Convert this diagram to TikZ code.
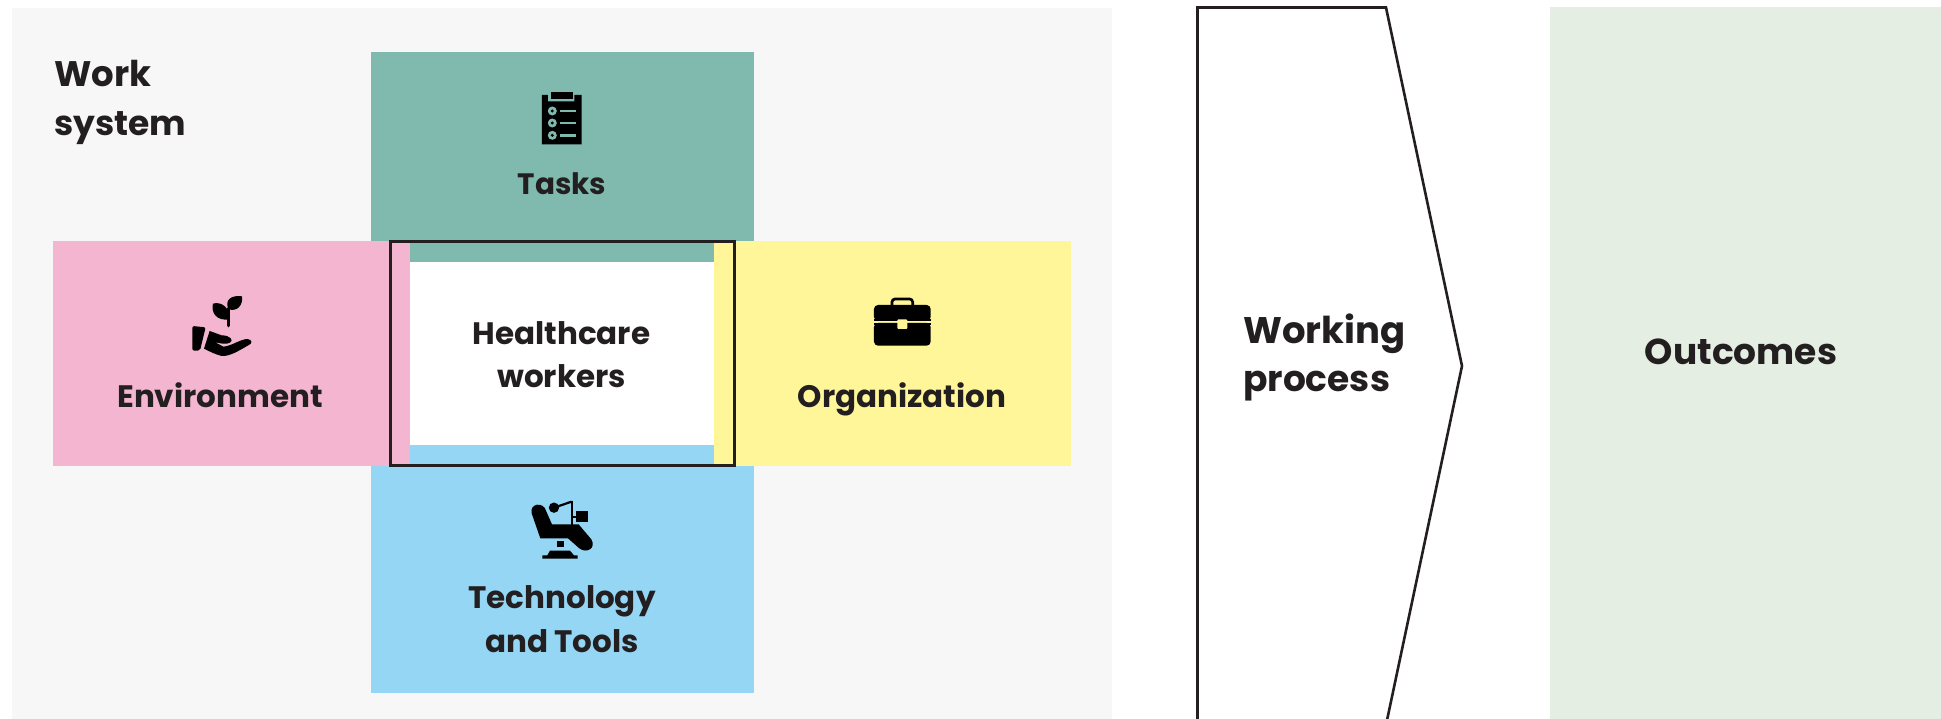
\documentclass[tikz,border=0pt]{standalone}
\usepackage{fontspec}
\setmainfont{Poppins}
\definecolor{ink}{HTML}{231F20}
\definecolor{panel}{HTML}{F7F7F7}
\definecolor{teal}{HTML}{80BAAF}
\definecolor{pinkb}{HTML}{F3B5D0}
\definecolor{yell}{HTML}{FFF599}
\definecolor{blueb}{HTML}{94D6F4}
\definecolor{greenb}{HTML}{E5EEE3}
\tikzset{
  lab/.style={font=\fontsize{31}{43.3}\selectfont\bfseries, text=ink, align=center, inner sep=0pt},
  labbig/.style={font=\fontsize{36}{48}\selectfont\bfseries, text=ink, align=left, inner sep=0pt},
  icon/.style={x=0.3333pt,y=-0.3333pt},
}
\begin{document}
\begin{tikzpicture}[x=1pt,y=-1pt]
\useasboundingbox (0,0) rectangle (1941,719);
\clip (0,0) rectangle (1941,719);
\fill[panel] (12,8) rectangle (1112,719);
\fill[teal] (371,52) rectangle (754,262);
\fill[blueb] (371,445) rectangle (754,693);
\fill[pinkb] (53,241) rectangle (410,466);
\fill[yell] (714,241) rectangle (1071,466);
\fill[white] (410,262) rectangle (714,445);
\draw[ink,line width=3pt] (390.5,241.5) rectangle (734.5,465.5);
\fill[greenb] (1550,7) rectangle (1941,719);
\draw[ink,line width=2.6pt,fill=white,line join=miter] (1197.5,7.5) -- (1386,7.5) -- (1462,366) -- (1386,725) -- (1197.5,725) -- cycle;
% labels
\node[labbig,anchor=base west,font=\fontsize{35.5}{48}\selectfont\bfseries] (ws) at (54,87) {Work};
\node[labbig,anchor=base west,font=\fontsize{34.5}{48}\selectfont\bfseries] (ws2) at (54,136) {system};
\node[lab,anchor=base,font=\fontsize{29.5}{40}\selectfont\bfseries] (tasks) at (562,195) {Tasks};
\node[lab,anchor=base] (env) at (220,407.5) {Environment};
\node[lab,anchor=base] (org) at (902,407.5) {Organization};
\node[lab] (hw) at (561.5,354.5) {Healthcare\\workers};
\node[lab] (tt) at (562,619) {Technology\\and Tools};
\node[labbig,anchor=base west,font=\fontsize{37}{48}\selectfont\bfseries] (wp) at (1243,343) {Working};
\node[labbig,anchor=base west] (wp2) at (1243,391.5) {process};
\node[labbig,anchor=base] (out) at (1741,364) {Outcomes};
% clipboard
\begin{scope}[shift={(360,40)},icon]
\fill[black] (546,165) -- (564,165) -- (564,184) -- (643,184) -- (643,165) -- (665,165) -- (665,313) -- (546,313) -- cycle;
\fill[black] (573,156) rectangle (640,177);
\foreach \yy in {213,249,286}{
  \fill[teal] (577,\yy) circle (13.5);
  \fill[black] (577,\yy) circle (5);
  \fill[teal] (600,\yy-4) rectangle (647,\yy+4);
}
\end{scope}
% plant and hand
\begin{scope}[shift={(40,230)},icon]
\fill[black] (566,238) .. controls (552,210) and (575,194) .. (606,199) .. controls (610,225) and (592,246) .. (566,238) -- cycle;
\fill[black] (519,221) .. controls (542,214) and (570,230) .. (568,268) .. controls (532,274) and (512,250) .. (519,221) -- cycle;
\draw[black,line width=3.5pt,line cap=round] (565,235) -- (565,287);
\fill[black,rounded corners=2pt] (457,288) -- (497,292) -- (480,362) -- (457,362) -- cycle;
\fill[black] (509,303) -- (545,316) .. controls (572,316) and (582,332) .. (570,338) .. controls (560,344) and (540,341) .. (524,336) -- (550,350) .. controls (575,348) and (600,328) .. (622,327) .. controls (638,329) and (638,341) .. (625,346) .. controls (600,360) and (570,380) .. (545,378) .. controls (525,373) and (510,365) .. (492,356) -- cycle;
\end{scope}
% briefcase
\begin{scope}[shift={(700,230)},icon]
\draw[black,line width=2.7pt,rounded corners=3pt] (576,228) -- (576,207) -- (638,207) -- (638,228);
\fill[black,rounded corners=4pt] (522,273) -- (522,225) -- (692,225) -- (692,273) -- cycle;
\fill[black,rounded corners=4pt] (522,279) -- (522,347) -- (692,347) -- (692,279) -- cycle;
\fill[black] (522,273) rectangle (692,268);
\fill[black] (522,279) rectangle (692,285);
\fill[yell,rounded corners=1pt] (592,268) rectangle (622,297);
\end{scope}
% dental chair
\begin{scope}[shift={(360,440)},icon]
\fill[black] (515,220) .. controls (508,190) and (550,184) .. (558,212) -- (576,253) -- (656,253) -- (694,298) .. controls (710,324) and (680,342) .. (658,325) -- (624,295) -- (541,295) -- cycle;
\fill[black] (582,203) circle (15.5);
\draw[black,line width=2.2pt] (582,203) -- (635,185);
\draw[black,line width=2.2pt] (635,182) -- (635,255);
\draw[black,line width=2.2pt] (635,230) -- (650,230);
\fill[black] (648,214) rectangle (684,245);
\fill[black] (591,303) rectangle (612,321);
\fill[black] (570,332) -- (630,332) -- (642,346) -- (653,346) -- (653,356) -- (547,356) -- (547,346) -- (562,346) -- cycle;
\end{scope}
\end{tikzpicture}
\end{document}
